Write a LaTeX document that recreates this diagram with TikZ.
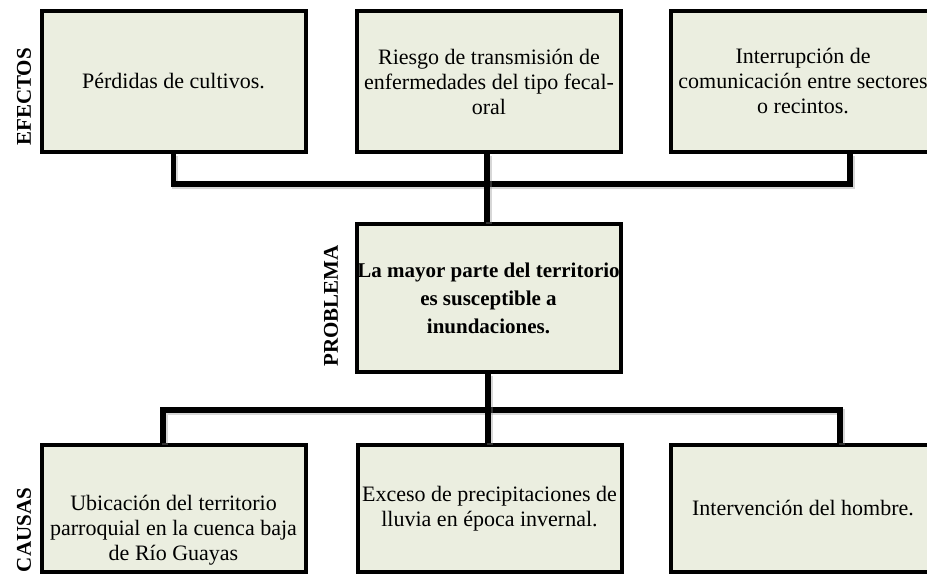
\documentclass[tikz,border=0pt]{standalone}
\usepackage{fontspec}
\setmainfont{Liberation Serif}
\definecolor{boxfill}{RGB}{235,238,224}
\begin{document}
\begin{tikzpicture}[x=1pt,y=-1pt,
  box/.style={draw=black, line width=4pt, fill=boxfill, rectangle, inner sep=0pt,
    minimum width=264pt, align=center, font=\fontsize{22}{25}\selectfont},
  conn/.style={draw=black, line width=5.5pt, line join=miter,
    preaction={draw=black!45, line width=6pt, opacity=0.35,
      transform canvas={shift={(1.5pt,-2pt)}}}},
  side/.style={rotate=90, font=\bfseries\fontsize{21}{25}\selectfont, inner sep=0pt},
  txt/.style={align=center, inner sep=0pt, font=\fontsize{22}{25}\selectfont}]
\useasboundingbox (0,0) rectangle (927,576);
\clip (0,0) rectangle (927,576);
% effects
\node[box, minimum height=141pt] (e1) at (173.5,81.5) {Pérdidas de cultivos.};
\node[box, minimum height=141pt] (e2) at (489,81.5) {Riesgo de transmisión de\\enfermedades del tipo fecal-\\oral};
\node[box, minimum height=141pt] (e3) at (803,81.5) {Interrupción de\\comunicación entre sectores\\o recintos.};
% problem
\node[box, minimum height=148pt, font=\bfseries\fontsize{21}{28}\selectfont] (p) at (488.5,298) {La mayor parte del territorio\\es susceptible a\\inundaciones.};
% causes
\node[box, minimum height=127pt] (c1) at (173.5,508.5) {};
\node[txt] (c1t) at (173.5,530) {Ubicación del territorio\\parroquial en la cuenca baja\\de Río Guayas};
\node[box, minimum height=127pt] (c2) at (489.5,508.5) {Exceso de precipitaciones de\\lluvia en época invernal.};
\node[box, minimum height=127pt] (c3) at (803,508.5) {Intervención del hombre.};
% side labels
\node[side] (lef) at (24,97) {EFECTOS};
\node[side] (lpr) at (331,306) {PROBLEMA};
\node[side] (lca) at (24,530) {CAUSAS};
% connector points
\coordinate (tbar) at (487,184);
\coordinate (e3in) at (850,154);
\coordinate (bbar) at (488,410);
\coordinate (c1in) at (163,443);
\coordinate (c3in) at (840,443);
% connectors
\draw[conn] (e1.south) |- (tbar) -| (e3in);
\draw[conn] (e2.south -| tbar) -- (p.north -| tbar);
\draw[conn] (c1in) |- (bbar) -| (c3in);
\draw[conn] (p.south -| bbar) -- (c2.north -| bbar);
\end{tikzpicture}
\end{document}
